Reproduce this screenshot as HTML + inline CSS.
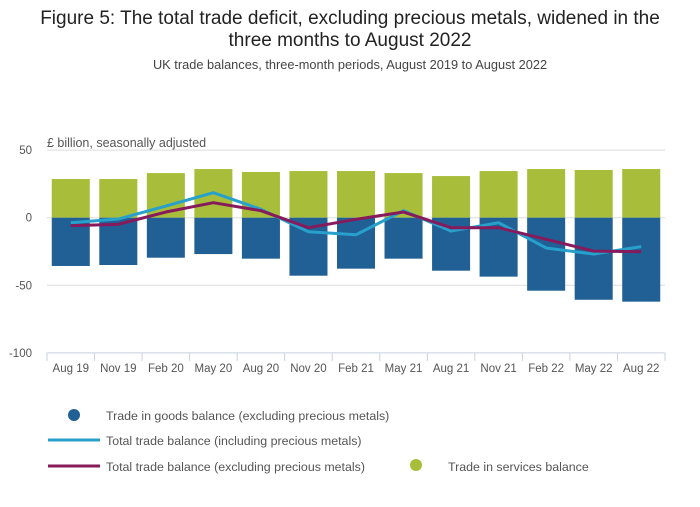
<!DOCTYPE html>
<html><head><meta charset="utf-8"><style>
body{margin:0;background:#fff;font-family:"Liberation Sans",sans-serif}
svg text{font-family:"Liberation Sans",sans-serif}
</style></head><body>
<svg id="c" width="700" height="502" xmlns="http://www.w3.org/2000/svg">
<text x="350" y="24" text-anchor="middle" font-size="19" fill="#222">Figure 5: The total trade deficit, excluding precious metals, widened in the</text>
<text x="350" y="46" text-anchor="middle" font-size="19" fill="#222">three months to August 2022</text>
<text x="350" y="69" text-anchor="middle" font-size="12.8" fill="#444">UK trade balances, three-month periods, August 2019 to August 2022</text>
<text x="47" y="147" font-size="12.5" fill="#555">£ billion, seasonally adjusted</text>
<g id="grid"></g><g id="bars"></g><g id="lines"></g><g id="axes"></g>
<g>
<circle cx="74" cy="415" r="6" fill="#206095"/>
<text x="106" y="420" font-size="12.4" fill="#555">Trade in goods balance (excluding precious metals)</text>
<line x1="48" y1="440" x2="100" y2="440" stroke="#27a0cc" stroke-width="3"/>
<text x="106" y="445" font-size="12.4" fill="#555">Total trade balance (including precious metals)</text>
<line x1="48" y1="466" x2="100" y2="466" stroke="#871a5b" stroke-width="3"/>
<text x="106" y="471" font-size="12.4" fill="#555">Total trade balance (excluding precious metals)</text>
<circle cx="416" cy="465" r="6" fill="#a8bd3a"/>
<text x="448" y="471" font-size="12.4" fill="#555">Trade in services balance</text>
</g>
</svg>
<script>
const categories=["Aug 19","Nov 19","Feb 20","May 20","Aug 20","Nov 20","Feb 21","May 21","Aug 21","Nov 21","Feb 22","May 22","Aug 22"];
const services=[28.6,28.6,33,36,33.8,34.5,34.5,33,30.8,34.5,36,35.3,36];
const goods=[-35.7,-35,-29.6,-26.9,-30.3,-42.9,-37.7,-30.3,-39.2,-43.6,-54,-60.7,-62.1];
const totalIncl=[-3.7,-1,8.6,18.5,6.2,-10.4,-12.6,5.2,-9.9,-3.7,-22.4,-26.9,-21.4];
const totalExcl=[-5.9,-4.9,4.2,11.1,5.2,-7.4,-1.2,4.2,-7.4,-7.4,-16,-24.7,-25.1];
const yTicks=[50,0,-50,-100];
const NS="http://www.w3.org/2000/svg";
const x0=47,x1=665,band=(x1-x0)/categories.length;
const y=v=>217.7-v*1.352;
const xc=i=>x0+band*(i+0.5);
function mk(t,a,p){const e=document.createElementNS(NS,t);for(const k in a)e.setAttribute(k,a[k]);document.getElementById(p).appendChild(e);return e;}
yTicks.forEach(t=>{
 const l=mk('line',{x1:x0,x2:x1,y1:y(t),y2:y(t),stroke:t===-100?'#c8d0e0':'#ddd','stroke-width':1},'grid');
 
 
 const tx=mk('text',{x:32,y:y(t)+4,'text-anchor':'end','font-size':11.5,fill:'#555'},'axes');
 tx.textContent=t;
 
 
});
const bw=band*0.8;
categories.forEach((c,i)=>{
 const s=mk('rect',{x:xc(i)-bw/2,y:y(services[i]),width:bw,height:y(0)-y(services[i]),fill:'#a8bd3a'},'bars');
 
 
 const g=mk('rect',{x:xc(i)-bw/2,y:y(0),width:bw,height:y(goods[i])-y(0),fill:'#206095'},'bars');
 
 
 const tk=mk('line',{x1:x0+band*i,x2:x0+band*i,y1:y(-100),y2:y(-100)+8,stroke:'#c8d0e0'},'axes');
 
 
 const tx=mk('text',{x:xc(i),y:372,'text-anchor':'middle','font-size':11.5,fill:'#555'},'axes');
 tx.textContent=c;
 
 
});
const tkEnd=mk('line',{x1:x1,x2:x1,y1:y(-100),y2:y(-100)+8,stroke:'#c8d0e0'},'axes');


[[totalIncl,'#27a0cc','line-total-incl'],[totalExcl,'#871a5b','line-total-excl']].forEach(([d,col,n])=>{
 const p=mk('polyline',{points:d.map((v,i)=>xc(i)+','+y(v)).join(' '),fill:'none',stroke:col,'stroke-width':3,'stroke-linejoin':'round'},'lines');
 
 
});
</script>
</body></html>
